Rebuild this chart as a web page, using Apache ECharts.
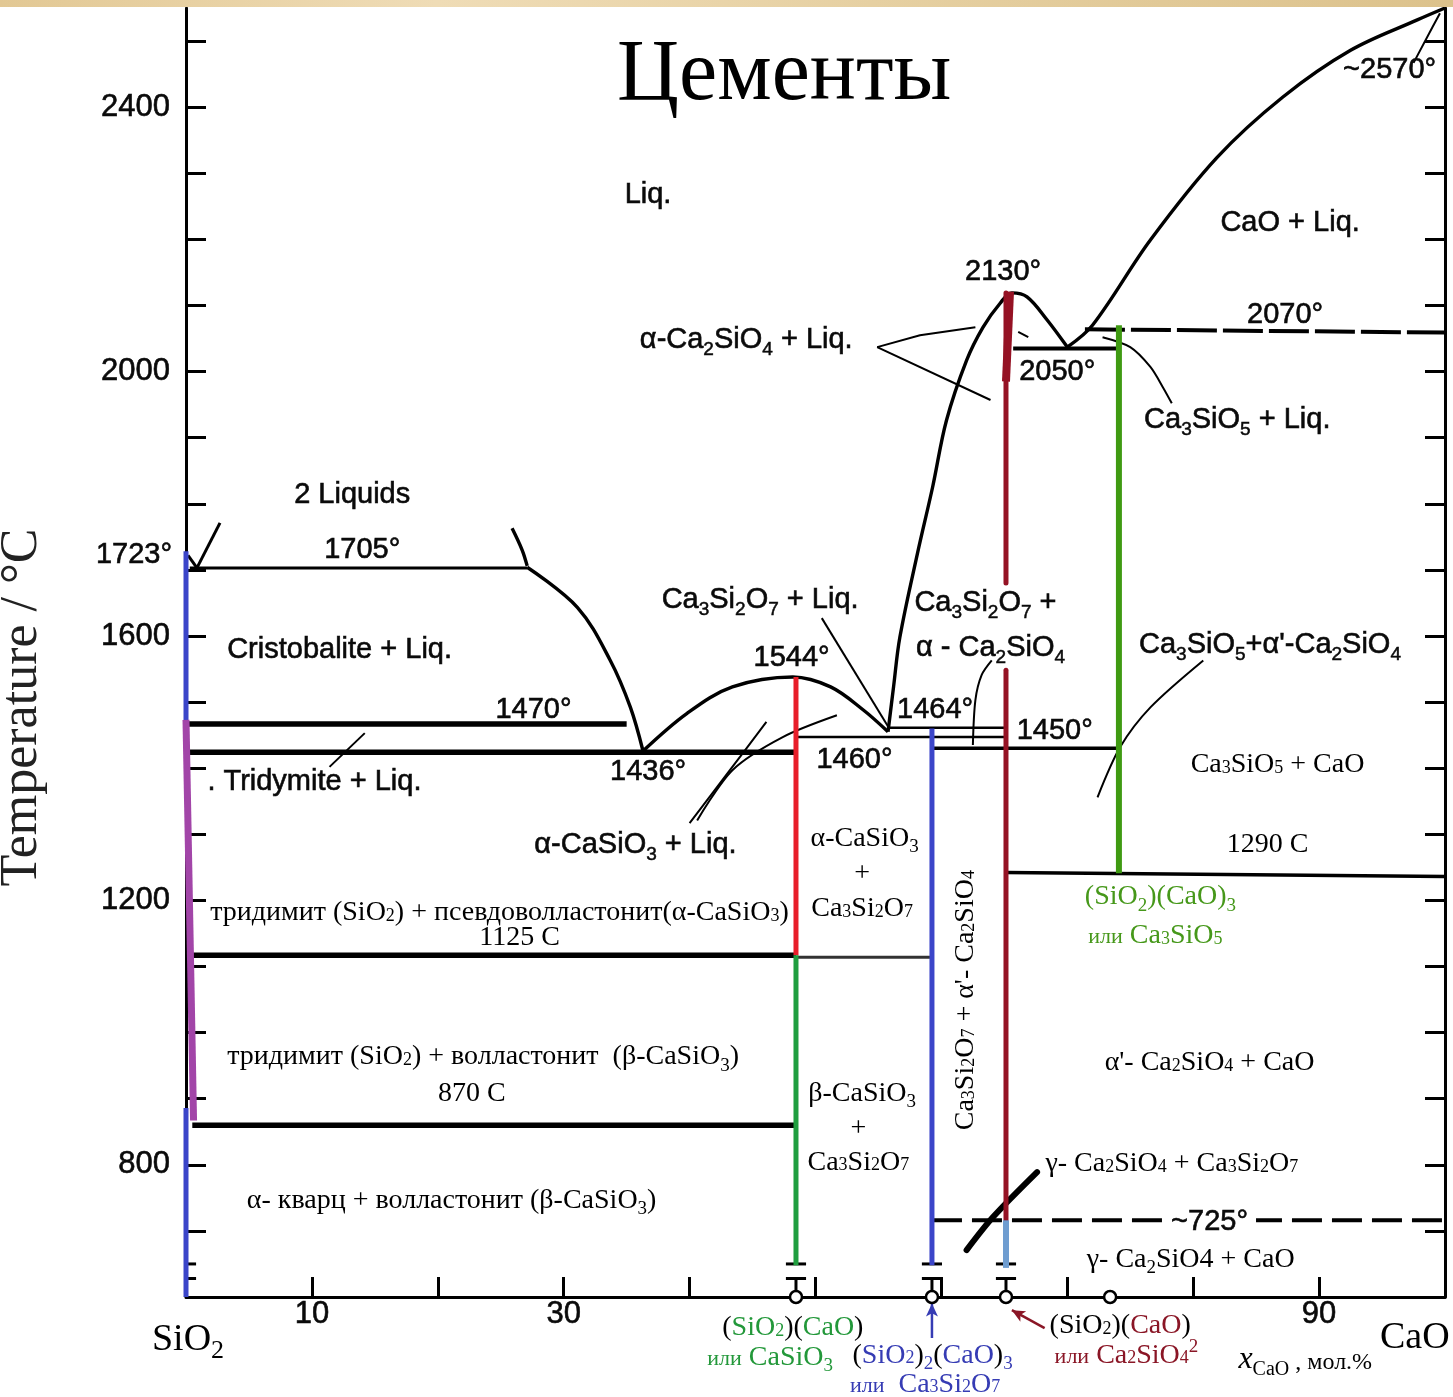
<!DOCTYPE html>
<html><head><meta charset="utf-8">
<script src="https://cdn.jsdelivr.net/npm/echarts@6/dist/echarts.min.js"></script>
<style>html,body{margin:0;padding:0;background:#fff}#c{width:1453px;height:1397px}</style>
</head><body><div id="c"></div>
<script>
// ================= DATA (x = mol.% CaO, T = °C) =================
const xTickLabels = [10, 30, 90];
const xTicks = [10, 20, 30, 40, 50, 60, 70, 80, 90];
const yTickLabels = [800, 1200, 1600, 2000, 2400];
const yTicks = [700, 800, 900, 1000, 1100, 1200, 1300, 1400, 1500, 1600, 1700, 1800, 1900, 2000, 2100, 2200, 2300, 2400, 2500];

// compound positions as drawn: CaSiO3, Ca3Si2O7, Ca2SiO4, Ca3SiO5
const compoundX = [48.45, 59.25, 65.13, 74.1];
const axisCircleX = [48.45, 59.25, 65.13, 73.4];
const breakX = [0, 48.45, 59.25, 65.13];
const breakT = [650, 628];

// liquidus / solvus curves
const twoLiqLeftA = [[0.16, 1722], [0.87, 1703]];
const twoLiqLeftB = [[0.87, 1703], [2.7, 1771]];
const twoLiqRight = [[25.9, 1763], [26.7, 1730], [27.1, 1706]];
const liqCristobalite = [[27.1, 1704], [31.1, 1643], [33.7, 1563], [35.3, 1492], [36.3, 1426]];
const liqCaSiO3 = [[36.3, 1426], [39.8, 1483], [43.4, 1523], [48.2, 1538], [51.2, 1523], [53.8, 1488], [55.76, 1455]];
const liqCa2SiO4 = [[55.76, 1455], [56.2, 1523], [56.7, 1598], [58.1, 1725], [59.3, 1825], [60.4, 1926], [62.0, 2017], [63.3, 2067], [64.65, 2103], [65.6, 2119], [66.8, 2113], [68.4, 2078], [70.0, 2037]];
const liqCaO = [[70.0, 2037], [72.0, 2070], [76.6, 2199], [81.9, 2324], [87.1, 2415], [92.5, 2486], [97.8, 2532], [100, 2550]];
const gammaCurve = [[62.0, 671], [64.1, 721], [67.6, 789]];

// isotherms
const iso1705 = [[0.3, 1703], [27.1, 1703]];
const iso1470 = [[0, 1467], [35.0, 1467]];
const iso1436 = [[0, 1424], [48.45, 1424]];
const iso1460 = [[48.45, 1447], [65.13, 1447]];
const iso1464 = [[55.9, 1461], [65.13, 1461]];
const iso1450 = [[59.25, 1430], [74.1, 1430]];
const iso2050 = [[65.7, 2035], [74.1, 2035]];
const iso2070 = [[71.4, 2064], [100, 2059]];
const iso1290 = [[65.13, 1242], [100, 1236]];
const iso1125 = [[0, 1117], [48.45, 1117]];
const iso1125b = [[48.45, 1114], [59.25, 1114]];
const iso870 = [[0.5, 860], [48.45, 860]];
const iso725 = [[59.25, 716], [100, 716]];

// leader lines
const leadTridymite = [[11.4, 1402], [14.2, 1453]];
const leadCa3Si2O7Liq = [[50.5, 1627], [55.8, 1462]];
const leadCaSiO3a = [[40.0, 1317], [43.2, 1397], [46.1, 1470]];
const leadCaSiO3b = [[40.6, 1321], [43.4, 1397], [47.4, 1447], [51.7, 1480]];
const leadCa2SiO4Up = [[54.9, 2037], [58.3, 2055], [62.7, 2067]];
const leadCa2SiO4Down = [[54.9, 2037], [63.9, 1957]];
const leadTick2050 = [[66.1, 2060], [66.9, 2052]];
const leadCa3SiO5Liq = [[72.8, 2052], [75.0, 2037], [76.6, 2007], [77.6, 1976], [78.3, 1952]];
const lead1464 = [[62.5, 1435], [62.7, 1503], [63.2, 1541], [64.0, 1563]];
const leadCa3SiO5Alpha = [[80.8, 1563], [76.6, 1492], [74.2, 1432], [72.4, 1356]];
const lead2570 = [[97.5, 2467], [99.0, 2521], [99.6, 2542]];

// coloured compound lines
const siO2Upper = [[0, 1728], [0, 1473]];
const siO2Mid = [[0, 1473], [0.6, 867]];
const siO2Lower = [[0, 886], [0, 600]];
const caSiO3High = [[48.45, 1538], [48.45, 1117]];
const caSiO3Low = [[48.45, 1117], [48.45, 648]];
const ca3Si2O7Line = [[59.25, 1460], [59.25, 648]];
const ca2SiO4High = [[65.13, 2119], [65.13, 1680]];
const ca2SiO4Wedge = [[65.45, 2121], [65.13, 1985]];
const ca2SiO4Mid = [[65.13, 1548], [65.13, 716]];
const ca2SiO4Low = [[65.13, 716], [65.13, 644]];
const ca3SiO5Line = [[74.1, 2070], [74.1, 1241]];
const arrowBlue = [[59.25, 538], [59.25, 590]];
const arrowMaroon = [[68.2, 553], [65.6, 580]];

// text annotations [x, T, text]
const sansLabels = [
  [36.7, 2267, 'Liq.'],
  [87.7, 2224, 'CaO + Liq.'],
  [64.9, 2150, '2130°'],
  [95.6, 2456, '~2570°'],
  [87.3, 2085, '2070°'],
  [69.2, 1999, '2050°'],
  [44.5, 2047, 'α-Ca{s|2}SiO{s|4} + Liq.'],
  [83.5, 1926, 'Ca{s|3}SiO{s|5} + Liq.'],
  [13.2, 1813, '2 Liquids'],
  [14.0, 1730, '1705°'],
  [12.2, 1579, 'Cristobalite + Liq.'],
  [27.6, 1488, '1470°'],
  [10.2, 1379, '. Tridymite + Liq.'],
  [36.7, 1394, '1436°'],
  [45.6, 1654, 'Ca{s|3}Si{s|2}O{s|7} + Liq.'],
  [48.1, 1566, '1544°'],
  [53.1, 1412, '1460°'],
  [59.5, 1488, '1464°'],
  [63.5, 1650, 'Ca{s|3}Si{s|2}O{s|7} +'],
  [63.9, 1582, 'α - Ca{s|2}SiO{s|4}'],
  [69.0, 1457, '1450°'],
  [86.1, 1586, "Ca{s|3}SiO{s|5}+α'-Ca{s|2}SiO{s|4}"],
  [35.7, 1284, 'α-CaSiO{s|3} + Liq.']
];
const label725 = [[81.3, 713, '~725°']];
const label1723 = [[0, 1723, '1723°']];
const serifLabels = [
  [86.7, 1405, 'Ca{m|3}SiO{m|5} + CaO'],
  [85.9, 1284, '1290 C'],
  [53.9, 1294, 'α-CaSiO{b|3}'],
  [53.7, 1241, '+'],
  [53.7, 1188, 'Ca{m|3}Si{m|2}O{m|7}'],
  [24.9, 1181, 'тридимит (SiO{m|2}) + псевдоволластонит(α-CaSiO{m|3})'],
  [26.5, 1143, '1125 C'],
  [23.6, 963, 'тридимит (SiO{m|2}) + волластонит  (β-CaSiO{b|3})'],
  [22.7, 908, '870 C'],
  [81.3, 955, "α'- Ca{m|2}SiO{m|4} + CaO"],
  [53.7, 908, 'β-CaSiO{b|3}'],
  [53.4, 855, '+'],
  [53.4, 804, 'Ca{m|3}Si{m|2}O{m|7}'],
  [78.3, 802, 'γ- Ca{m|2}SiO{m|4} + Ca{m|3}Si{m|2}O{m|7}'],
  [21.1, 746, 'α- кварц + волластонит (β-CaSiO{b|3})'],
  [79.8, 656, 'γ- Ca{b|2}SiO4 + CaO']
];
const verticalLabels = [[61.9, 1049, "Ca{m|3}Si{m|2}O{m|7} + α'- Ca{m|2}SiO{m|4}"]];
const endLabels = [[0.16, 535, 'SiO{b|2}'], [97.6, 538, 'CaO']];
const axisNameLabel = [[88.9, 501, '{i|x}{isub|CaO} , мол.%']];
const greenCaSiO3Labels = [[48.2, 554, '({a|SiO}{am|2})({a|CaO})'], [46.4, 509, '{as|или} {a|CaSiO}{asub|3}']];
const greenCa3SiO5Labels = [[77.4, 1205, '{a|(SiO}{asub|2}{a|)(CaO)}{asub|3}'], [77.0, 1147, '{as|или} {a|Ca}{am|3}{a|SiO}{am|5}']];
const blueLabels = [[59.3, 512, '({a|SiO}{am|2}){asub|2}({a|CaO}){asub|3}'], [58.7, 468, '{as|или}  {a|Ca}{am|3}{a|Si}{am|2}{a|O}{am|7}']];
const maroonLabels = [[74.2, 557, '(SiO{m|2})({a|CaO})'], [74.7, 512, '{as|или} {a|Ca}{am|2}{a|SiO}{am|4}{sup|2}']];

// ================= STYLE / BUILD =================
const SANS = '"Liberation Sans", Arial, sans-serif';
const SERIF = '"Liberation Serif", "Times New Roman", serif';
const INK = '#000000';
const C = {
  blue: '#3b45c9', purple: '#a245a8', red: '#e81e2a', green1: '#1f9e3f',
  maroon: '#951224', lightBlue: '#6f9dd0', green2: '#3f9a12',
  tGreen1: '#23983a', tGreen2: '#46981a', tBlue: '#363cb4', tMaroon: '#8a1626'
};

function line(data, color, width, opts) {
  opts = opts || {};
  return {
    type: 'line', data: data, symbol: 'none', clip: false, silent: true, animation: false,
    smooth: opts.smooth || false, z: opts.z || 3,
    lineStyle: { color: color, width: width, type: opts.dash || 'solid', cap: opts.cap || 'butt', opacity: 1 }
  };
}
function labels(items, labelOpt, z) {
  return {
    type: 'scatter', symbolSize: 0, clip: false, silent: true, animation: false, z: z || 10,
    itemStyle: { opacity: 1 },
    data: items.map(d => ({ value: [d[0], d[1]], name: d[2] })),
    label: Object.assign({ show: true, position: 'inside', opacity: 1, formatter: p => p.name }, labelOpt)
  };
}
const sansOpt = {
  fontFamily: SANS, fontSize: 29, color: '#0a0a0a', lineHeight: 34,
  textBorderColor: '#0a0a0a', textBorderWidth: 0.6,
  rich: { s: { fontFamily: SANS, fontSize: 19, height: 15, verticalAlign: 'bottom', color: '#0a0a0a', textBorderColor: '#0a0a0a', textBorderWidth: 0.5 } }
};
function serifRich(accent) {
  return {
    m: { fontFamily: SERIF, fontSize: 18, height: 27, verticalAlign: 'bottom', color: INK },
    b: { fontFamily: SERIF, fontSize: 19, height: 17, verticalAlign: 'bottom', color: INK },
    a: { fontFamily: SERIF, fontSize: 28, color: accent },
    am: { fontFamily: SERIF, fontSize: 18, height: 27, verticalAlign: 'bottom', color: accent },
    asub: { fontFamily: SERIF, fontSize: 19, height: 17, verticalAlign: 'bottom', color: accent },
    as: { fontFamily: SERIF, fontSize: 22, height: 30, verticalAlign: 'bottom', color: accent },
    sup: { fontFamily: SERIF, fontSize: 19, height: 17, verticalAlign: 'top', color: accent }
  };
}
function serifOpt(accent, base) {
  return { fontFamily: SERIF, fontSize: 28, color: base || INK, lineHeight: 34, rich: serifRich(accent || INK) };
}

const series = [];
// black boundaries
[twoLiqLeftA, twoLiqLeftB].forEach(d => series.push(line(d, INK, 3)));
[twoLiqRight, liqCristobalite, liqCaSiO3, liqCa2SiO4, liqCaO].forEach(d => series.push(line(d, INK, 3.4, { smooth: 0.35 })));
series.push(line(gammaCurve, INK, 6, { smooth: 0.3, cap: 'round' }));
series.push(line(iso1705, INK, 3));
series.push(line(iso1470, INK, 5.5));
series.push(line(iso1436, INK, 5.5));
series.push(line(iso1460, INK, 2.5));
series.push(line(iso1464, INK, 2.5));
series.push(line(iso1450, INK, 3.5));
series.push(line(iso2050, INK, 4));
series.push(line(iso2070, INK, 4, { dash: [40, 6] }));
series.push(line(iso1290, INK, 3.5));
series.push(line(iso1125, INK, 5.5));
series.push(line(iso1125b, '#333', 3));
series.push(line(iso870, INK, 5.5));
series.push(line(iso725, INK, 4, { dash: [30, 10] }));
// leaders
[leadTridymite, leadCa3Si2O7Liq, leadCa2SiO4Up, leadCa2SiO4Down, leadTick2050, lead2570].forEach(d => series.push(line(d, INK, 2)));
[leadCaSiO3a, leadCaSiO3b, leadCa3SiO5Liq, lead1464, leadCa3SiO5Alpha].forEach(d => series.push(line(d, INK, 2, { smooth: 0.3 })));
// break marks and stems at bottom
breakX.forEach(x => {
  breakT.forEach(t => series.push(line([[x - 0.8, t], [x + 0.8, t]], INK, 3)));
  if (x > 0) series.push(line([[x, breakT[1]], [x, 606]], INK, 3));
});
// coloured compound lines
series.push(line(siO2Upper, C.blue, 5, { z: 5 }));
series.push(line(siO2Mid, C.purple, 7, { z: 5 }));
series.push(line(siO2Lower, C.blue, 5, { z: 5 }));
series.push(line(caSiO3High, C.red, 5, { z: 5 }));
series.push(line(caSiO3Low, C.green1, 5, { z: 5 }));
series.push(line(ca3Si2O7Line, C.blue, 5, { z: 5 }));
series.push(line(ca2SiO4High, C.maroon, 5, { z: 5, cap: 'round' }));
series.push(line(ca2SiO4Wedge, C.maroon, 8, { z: 5 }));
series.push(line(ca2SiO4Mid, C.maroon, 5, { z: 5, cap: 'round' }));
series.push(line(ca2SiO4Low, C.lightBlue, 6, { z: 5 }));
series.push(line(ca3SiO5Line, C.green2, 6, { z: 5 }));
// arrows
function arrow(d, color, rot) {
  return {
    type: 'line', clip: false, silent: true, animation: false, z: 6, showSymbol: true,
    data: [{ value: d[0], symbol: 'none' }, { value: d[1], symbol: 'arrow', symbolSize: [9, 13], symbolRotate: rot }],
    itemStyle: { color: color, opacity: 1 }, lineStyle: { color: color, width: 2.5 }
  };
}
series.push(arrow(arrowBlue, C.tBlue, 0));
series.push(arrow(arrowMaroon, C.tMaroon, 61));
// circles on axis
series.push({
  type: 'scatter', clip: false, silent: true, animation: false, z: 7, symbol: 'circle', symbolSize: 12,
  data: axisCircleX.map(x => [x, 600]),
  itemStyle: { color: '#fff', borderColor: INK, borderWidth: 2.5, opacity: 1 }
});
// labels
series.push(labels(sansLabels, sansOpt, 12));
series.push(labels(label725, Object.assign({}, sansOpt, { backgroundColor: '#fff', padding: [0, 8] }), 12));
series.push(labels(label1723, Object.assign({}, sansOpt, { position: 'left', distance: 14 }), 12));
series.push(labels(serifLabels, serifOpt(), 12));
series.push(labels(verticalLabels, Object.assign(serifOpt(), { rotate: 90 }), 12));
series.push(labels(endLabels, {
  fontFamily: SERIF, fontSize: 38, color: '#000', lineHeight: 44,
  rich: { b: { fontFamily: SERIF, fontSize: 26, height: 22, verticalAlign: 'bottom', color: '#000' } }
}, 12));
series.push(labels(axisNameLabel, {
  fontFamily: SERIF, fontSize: 24, color: INK, lineHeight: 34,
  rich: {
    i: { fontFamily: SERIF, fontSize: 32, fontStyle: 'italic', height: 40, verticalAlign: 'bottom', color: INK },
    isub: { fontFamily: SERIF, fontSize: 20, height: 20, verticalAlign: 'bottom', color: INK }
  }
}, 12));
series.push(labels(greenCaSiO3Labels, serifOpt(C.tGreen1), 12));
series.push(labels(greenCa3SiO5Labels, serifOpt(C.tGreen2), 12));
series.push(labels(blueLabels, serifOpt(C.tBlue), 12));
series.push(labels(maroonLabels, serifOpt(C.tMaroon), 12));

const axisCommon = {
  type: 'value', splitLine: { show: false },
  axisLine: { show: true, onZero: false, lineStyle: { color: INK, width: 3 } }
};
const tickLabelStyle = {
  fontFamily: SANS, fontSize: 31, color: '#0a0a0a',
  textBorderColor: '#0a0a0a', textBorderWidth: 0.6, formatter: v => String(v)
};

const option = {
  backgroundColor: '#ffffff',
  animation: false,
  title: {
    text: 'Цементы', left: 612, top: 28,
    textStyle: { fontFamily: SERIF, fontSize: 86, fontWeight: 'normal', color: '#000' }
  },
  grid: { left: 186, right: 8, top: 8, bottom: 100, containLabel: false, outerBoundsMode: 'none' },
  xAxis: Object.assign({}, axisCommon, {
    min: 0, max: 100,
    axisTick: { show: true, inside: true, length: 20, customValues: xTicks, lineStyle: { color: INK, width: 3 } },
    axisLabel: Object.assign({ show: true, customValues: xTickLabels, margin: 2 }, tickLabelStyle)
  }),
  yAxis: [
    Object.assign({}, axisCommon, {
      min: 600, max: 2550, position: 'left',
      name: 'Temperature / °C', nameLocation: 'middle', nameRotate: 90, nameGap: 138,
      nameTextStyle: { fontFamily: SERIF, fontSize: 52, color: '#222', padding: [0, 110, 0, 0] },
      axisTick: { show: true, inside: true, length: 20, customValues: yTicks, lineStyle: { color: INK, width: 3 } },
      axisLabel: Object.assign({ show: true, customValues: yTickLabels, margin: 16 }, tickLabelStyle)
    }),
    Object.assign({}, axisCommon, {
      min: 600, max: 2550, position: 'right',
      axisTick: { show: true, inside: true, length: 20, customValues: yTicks, lineStyle: { color: INK, width: 3 } },
      axisLabel: { show: false }
    })
  ],
  graphic: [{
    type: 'rect', z: 100, shape: { x: 0, y: 0, width: 1453, height: 7 },
    style: {
      fill: new echarts.graphic.LinearGradient(0, 0, 1, 0, [
        { offset: 0, color: '#e2c894' }, { offset: 0.3, color: '#efdcb6' },
        { offset: 0.6, color: '#e6d0a2' }, { offset: 1, color: '#dcc28c' }
      ])
    }
  }],
  series: series
};

const chart = echarts.init(document.getElementById('c'), null, { renderer: 'canvas', width: 1453, height: 1397 });
chart.setOption(option);
</script>
</body></html>
